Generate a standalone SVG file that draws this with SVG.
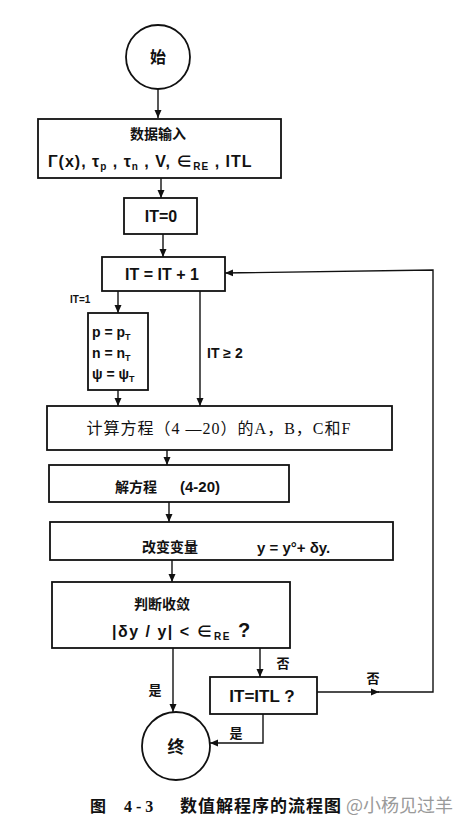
<svg xmlns="http://www.w3.org/2000/svg" width="472" height="824" viewBox="0 0 472 824">
<style>
.box{fill:#fff;stroke:#111;stroke-width:1.8}
.ln{fill:none;stroke:#111;stroke-width:1.4}
.cj{font-family:"Noto Sans CJK SC",sans-serif;font-weight:bold;fill:#111}
.lt{font-family:"Liberation Sans","Noto Sans CJK SC",sans-serif;font-weight:bold;fill:#111}
.sr{font-family:"Liberation Serif","Noto Sans CJK SC",serif;fill:#111}
</style>
<defs>
<marker id="ar" markerUnits="userSpaceOnUse" markerWidth="9" markerHeight="8" refX="8" refY="4" orient="auto">
<path d="M0,0.5 L8,4 L0,7.5 z" fill="#111"/>
</marker>
</defs>
<rect width="472" height="824" fill="#fff"/>

<g id="connectors">
<path class="ln" d="M158,89 L158,118" marker-end="url(#ar)"/>
<path class="ln" d="M161,178 L161,198" marker-end="url(#ar)"/>
<path class="ln" d="M163,234 L163,257" marker-end="url(#ar)"/>
<path class="ln" d="M118,291 L118,313" marker-end="url(#ar)"/>
<path class="ln" d="M118,390 L118,406" marker-end="url(#ar)"/>
<path class="ln" d="M200,291 L200,406" marker-end="url(#ar)"/>
<path class="ln" d="M167,450 L167,465" marker-end="url(#ar)"/>
<path class="ln" d="M169,502 L169,522" marker-end="url(#ar)"/>
<path class="ln" d="M172,560 L172,582" marker-end="url(#ar)"/>
<path class="ln" d="M173,648 L173,712" marker-end="url(#ar)"/>
<path class="ln" d="M260,648 L260,677" marker-end="url(#ar)"/>
<path class="ln" d="M317,692 L379,692" marker-end="url(#ar)"/>
<path class="ln" d="M378,692 L433,692 L433,270 L225,273" marker-end="url(#ar)"/>
<path class="ln" d="M263,714 L263,743 L210,743" marker-end="url(#ar)"/>
<text class="lt" x="70" y="303" font-size="10">IT=1</text>
<text class="lt" x="207" y="358" font-size="14">IT ≥ 2</text>
<text class="cj" x="155" y="695" font-size="13" text-anchor="middle">是</text>
<text class="cj" x="283" y="668" font-size="13" text-anchor="middle">否</text>
<text class="cj" x="373" y="683" font-size="13" text-anchor="middle">否</text>
<text class="cj" x="236" y="738" font-size="13" text-anchor="middle">是</text>
</g>

<g id="start">
<circle cx="158" cy="57" r="32" fill="#fff" stroke="#111" stroke-width="1.8"/>
<text class="cj" x="158" y="63" font-size="16" text-anchor="middle">始</text>
</g>

<g id="input">
<rect class="box" x="38" y="119" width="243" height="59"/>
<text class="cj" x="158" y="139" font-size="14" text-anchor="middle">数据输入</text>
<text class="lt" x="48" y="167" font-size="16" letter-spacing="1">Γ(x), τ<tspan font-size="10" dy="3">p</tspan><tspan dy="-3"> , τ</tspan><tspan font-size="10" dy="3">n</tspan><tspan dy="-3"> , V, ∈</tspan><tspan font-size="10" dy="3">RE</tspan><tspan dy="-3"> , ITL</tspan></text>
</g>

<g id="it0">
<rect class="box" x="124" y="198" width="73" height="36"/>
<text class="lt" x="161" y="222" font-size="16" text-anchor="middle">IT=0</text>
</g>

<g id="itinc">
<rect class="box" x="102" y="257" width="123" height="34"/>
<text class="lt" x="162" y="280" font-size="16" text-anchor="middle">IT = IT + 1</text>
</g>

<g id="init">
<rect class="box" x="88" y="313" width="60" height="77"/>
<text class="lt" x="92" y="337" font-size="14">p = p<tspan font-size="9" dy="3">T</tspan></text>
<text class="lt" x="92" y="358" font-size="14">n = n<tspan font-size="9" dy="3">T</tspan></text>
<text class="lt" x="92" y="379" font-size="14">ψ = ψ<tspan font-size="9" dy="3">T</tspan></text>
</g>

<g id="compute">
<rect class="box" x="47" y="406" width="345" height="44"/>
<text class="sr" x="219" y="434" font-size="16" letter-spacing="1" text-anchor="middle">计算方程（4 —20）的A，B，C和F</text>
</g>

<g id="solve">
<rect class="box" x="49" y="465" width="240" height="37"/>
<text class="cj" x="115" y="492" font-size="14">解方程</text>
<text class="lt" x="180" y="492" font-size="15">(4-20)</text>
</g>

<g id="change">
<rect class="box" x="50" y="522" width="343" height="38"/>
<text class="cj" x="142" y="552" font-size="14">改变变量</text>
<text class="lt" x="257" y="553" font-size="15">y = y°+ δy.</text>
</g>

<g id="judge">
<rect class="box" x="52" y="582" width="238" height="66"/>
<text class="cj" x="162" y="609" font-size="14" text-anchor="middle">判断收敛</text>
<text class="lt" x="112" y="637" font-size="16" letter-spacing="1.5">|δy / y| &lt; ∈<tspan font-size="10" dy="3">RE</tspan><tspan dy="-3" font-size="20"> ?</tspan></text>
</g>

<g id="itl">
<rect class="box" x="210" y="677" width="107" height="37"/>
<text class="lt" x="262" y="702" font-size="17" text-anchor="middle">IT=ITL ?</text>
</g>

<g id="end">
<circle cx="176" cy="746" r="34" fill="#fff" stroke="#111" stroke-width="1.8"/>
<text class="cj" x="176" y="753" font-size="17" text-anchor="middle">终</text>
</g>

<g id="caption">
<text class="cj" x="90" y="812" font-size="16">图</text>
<text class="sr" x="124" y="812" font-size="16" font-weight="bold">4 - 3</text>
<text class="cj" x="180" y="812" font-size="17" letter-spacing="1">数值解程序的流程图</text>
<text x="346" y="812" font-size="18" fill="#9a9a9a" font-family="Noto Sans CJK SC, sans-serif">@小杨见过羊</text>
</g>
</svg>
